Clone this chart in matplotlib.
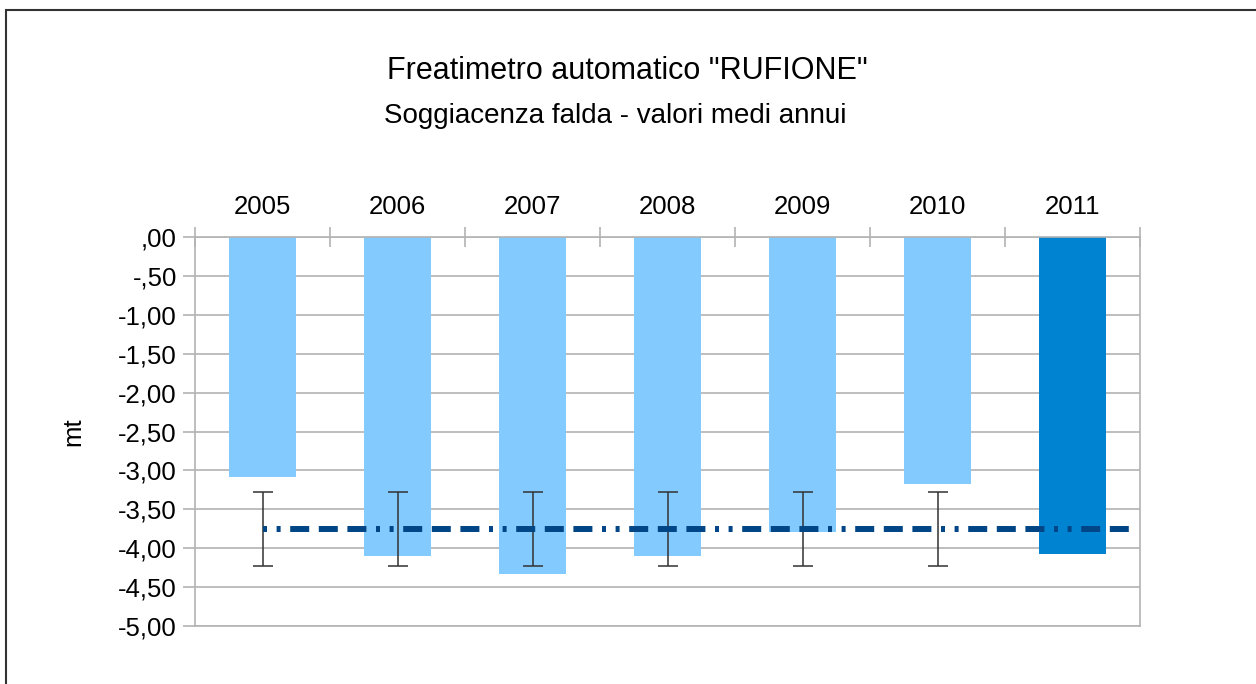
import numpy as np
import matplotlib
matplotlib.use("Agg")
import matplotlib.pyplot as plt
from matplotlib.patches import Rectangle

plt.rcParams['font.family'] = ['Liberation Sans', 'DejaVu Sans']
plt.rcParams['lines.scale_dashes'] = False

# data
years = ['2005', '2006', '2007', '2008', '2009', '2010', '2011']
depth = [-3.08, -4.10, -4.33, -4.10, -3.79, -3.17, -4.07]
mean_depth = -3.755
err = 0.475
yticks = [0, -0.5, -1, -1.5, -2, -2.5, -3, -3.5, -4, -4.5, -5]
ytick_labels = [',00', '-,50', '-1,00', '-1,50', '-2,00', '-2,50',
                '-3,00', '-3,50', '-4,00', '-4,50', '-5,00']

light = '#83CAFF'
dark = '#0084D1'
line_col = '#004586'
grid_col = '#b3b3b3'

fig = plt.figure(figsize=(12.56, 6.84), dpi=100)
W, H = 1256, 684
ax = fig.add_axes([195/W, 1-626/H, (1140-195)/W, (626-237)/H])

x = np.arange(len(years))
cols = [light]*(len(years)-1) + [dark]
ax.bar(x, depth, width=0.5, color=cols, zorder=2)

# mean line with error bars
ax.errorbar(x[:-1], [mean_depth]*(len(x)-1), yerr=err, fmt='none',
            ecolor='#333333', alpha=0.85, elinewidth=1.3, capsize=7, capthick=1.3, zorder=3)
px = 0.72
dash = (0, (4*px, 9.6*px, 4*px, 9.6*px, 19*px, 9.6*px, 19*px, 9.6*px, 19*px, 9.6*px))
ax.hlines(mean_depth, x[0], x[-1]+0.43, colors=line_col, linewidth=4.3,
          linestyles=[dash], zorder=4)

ax.set_xlim(-0.5, len(years)-0.5)
ax.set_ylim(-5, 0)
ax.set_yticks(yticks)
ax.set_yticklabels(ytick_labels, fontsize=18.5)
ax.yaxis.grid(True, color=grid_col, linewidth=1.2, zorder=0)
ax.set_axisbelow(True)
ax.tick_params(axis='y', length=9, width=1.2, color=grid_col, pad=4)

ax.xaxis.tick_top()
ax.set_xticks(x)
ax.set_xticklabels(years, fontsize=18.5)
ax.set_xticks(np.arange(len(years)+1)-0.5, minor=True)
ax.tick_params(axis='x', which='major', length=0, pad=13)
ax.tick_params(axis='x', which='minor', direction='inout', length=14, width=1.2, color=grid_col)

for s in ['left', 'right', 'top', 'bottom']:
    ax.spines[s].set_color(grid_col)
    ax.spines[s].set_linewidth(1.2)

ax.set_ylabel('mt', fontsize=18.5, labelpad=24)

fig.text(627/W, 1-71/H, 'Freatimetro automatico "RUFIONE"', ha='center', va='center', fontsize=22)
fig.text(615/W, 1-116/H, 'Soggiacenza falda - valori medi annui', ha='center', va='center', fontsize=20)

fig.patches.append(Rectangle((5.5/W, -0.1), 1.2, 1-10/H+0.1, transform=fig.transFigure,
                             fill=False, edgecolor='#333333', linewidth=1.5))

fig.savefig('out.png', dpi=100)
